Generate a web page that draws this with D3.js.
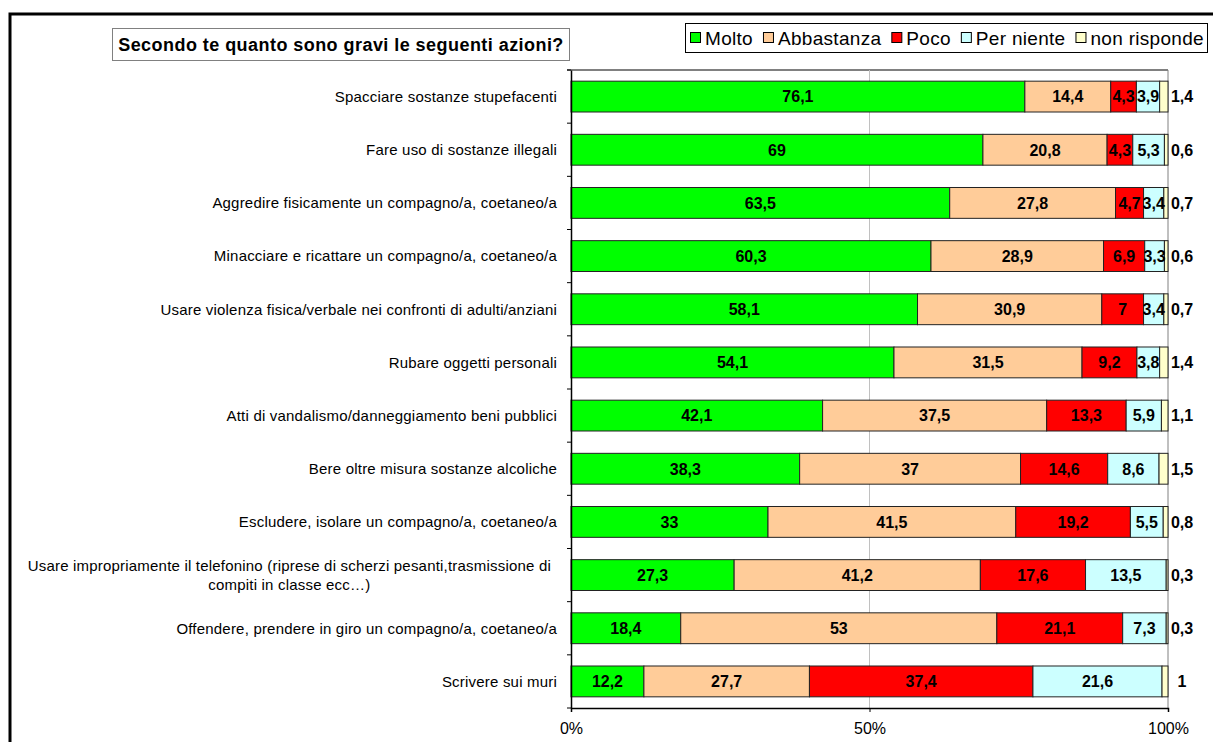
<!DOCTYPE html>
<html>
<head>
<meta charset="utf-8">
<script src="https://cdn.jsdelivr.net/npm/d3@7"></script>
<style>
  body { margin: 0; background: #fff; }
  svg { font-family: "Liberation Sans", Arial, sans-serif; }
</style>
</head>
<body>
<div id="chart"></div>
<script>
const WIDTH = 1213;
const HEIGHT = 742;

const categories = [
  "Spacciare sostanze stupefacenti",
  "Fare uso di sostanze illegali",
  "Aggredire fisicamente un compagno/a, coetaneo/a",
  "Minacciare e ricattare un compagno/a, coetaneo/a",
  "Usare violenza fisica/verbale nei confronti di adulti/anziani ",
  "Rubare oggetti personali",
  "Atti di vandalismo/danneggiamento beni pubblici",
  "Bere oltre misura sostanze alcoliche",
  "Escludere, isolare un compagno/a, coetaneo/a",
  "Usare impropriamente il telefonino (riprese di scherzi pesanti,trasmissione di|compiti in classe ecc…)",
  "Offendere, prendere in giro un compagno/a, coetaneo/a",
  "Scrivere sui muri"
];

const seriesNames = ["Molto", "Abbastanza", "Poco", "Per niente", "non risponde"];
const molto       = [76.1, 69, 63.5, 60.3, 58.1, 54.1, 42.1, 38.3, 33, 27.3, 18.4, 12.2];
const abbastanza  = [14.4, 20.8, 27.8, 28.9, 30.9, 31.5, 37.5, 37, 41.5, 41.2, 53, 27.7];
const poco        = [4.3, 4.3, 4.7, 6.9, 7, 9.2, 13.3, 14.6, 19.2, 17.6, 21.1, 37.4];
const perNiente   = [3.9, 5.3, 3.4, 3.3, 3.4, 3.8, 5.9, 8.6, 5.5, 13.5, 7.3, 21.6];
const nonRisponde = [1.4, 0.6, 0.7, 0.6, 0.7, 1.4, 1.1, 1.5, 0.8, 0.3, 0.3, 1];
const seriesColors = ["#00ff00", "#ffcc99", "#ff0000", "#ccffff", "#ffffcc"];
const xTicks = [0, 0.5, 1];

const title = "Secondo te quanto sono gravi le seguenti azioni?";

const values = [molto, abbastanza, poco, perNiente, nonRisponde];
const rows = categories.map((c, i) => {
  const row = { cat: c };
  seriesNames.forEach((s, k) => row[s] = values[k][i]);
  return row;
});
// 100% stacked: normalise each row by its total
const normRows = rows.map(r => {
  const tot = d3.sum(seriesNames, s => r[s]);
  const o = { cat: r.cat };
  seriesNames.forEach(s => o[s] = r[s] / tot);
  return o;
});
const stacked = d3.stack().keys(seriesNames)(normRows);

const margin = { left: 571, right: 1168, top: 70, bottom: 708 };

const svg = d3.select("#chart").append("svg")
  .attr("width", WIDTH)
  .attr("height", HEIGHT);

// outer frame
svg.append("rect")
  .attr("x", 10).attr("y", 14)
  .attr("width", WIDTH + 20).attr("height", HEIGHT + 20)
  .attr("fill", "none").attr("stroke", "#000").attr("stroke-width", 3);

const x = d3.scaleLinear().domain([0, 1]).range([margin.left, margin.right]);
const y = d3.scaleBand().domain(d3.range(categories.length))
  .range([margin.top, margin.bottom]).paddingInner(0.42).paddingOuter(0.21);

// plot area border (top / right) and gridline
svg.append("line")
  .attr("x1", margin.left - 4).attr("x2", margin.right)
  .attr("y1", margin.top).attr("y2", margin.top)
  .attr("stroke", "#808080").attr("stroke-width", 2);
svg.append("line")
  .attr("x1", margin.right).attr("x2", margin.right)
  .attr("y1", margin.top).attr("y2", margin.bottom)
  .attr("stroke", "#808080").attr("stroke-width", 1);
svg.append("line")
  .attr("x1", x(0.5)).attr("x2", x(0.5))
  .attr("y1", margin.top).attr("y2", margin.bottom)
  .attr("stroke", "#c0c0c0").attr("stroke-width", 1);

// bars
const layer = svg.selectAll(".layer")
  .data(stacked)
  .enter().append("g")
  .attr("class", "layer")
  .attr("fill", (d, k) => seriesColors[k]);

layer.selectAll("rect")
  .data(d => d)
  .enter().append("rect")
  .attr("x", d => x(d[0]))
  .attr("y", (d, i) => y(i))
  .attr("width", d => x(d[1]) - x(d[0]))
  .attr("height", y.bandwidth())
  .attr("stroke", "#222")
  .attr("stroke-width", 1);

const fmt = v => String(v).replace(".", ",");

// value labels
stacked.forEach((s, k) => {
  svg.append("g").selectAll("text")
    .data(s)
    .enter().append("text")
    .attr("x", d => k === 4 ? x(1) + 14 : (x(d[0]) + x(d[1])) / 2)
    .attr("y", (d, i) => y(i) + y.bandwidth() / 2)
    .attr("dy", "0.36em")
    .attr("text-anchor", "middle")
    .style("font-size", "16px")
    .style("font-weight", "bold")
    .attr("fill", "#000")
    .text((d, i) => fmt(values[k][i]));
});

// y axis
const yAxis = d3.axisLeft(y).tickSize(0).tickFormat("");
svg.append("g")
  .attr("transform", `translate(${margin.left},0)`)
  .call(yAxis)
  .call(g => g.select(".domain").attr("stroke", "#000").attr("stroke-width", 1.5));
// category separators as ticks
svg.append("g").selectAll("line")
  .data(d3.range(categories.length + 1))
  .enter().append("line")
  .attr("x1", margin.left - 4).attr("x2", margin.left)
  .attr("y1", i => margin.top + i * y.step() )
  .attr("y2", i => margin.top + i * y.step() )
  .attr("stroke", "#000");

// category labels
const labels = svg.append("g").selectAll("text")
  .data(categories)
  .enter().append("text")
  .style("font-size", "15px")
  .style("letter-spacing", "0.2px")
  .attr("fill", "#000");
labels.each(function(c, i) {
  const t = d3.select(this);
  const lines = c.split("|");
  const cy = y(i) + y.bandwidth() / 2;
  if (lines.length === 1) {
    t.attr("x", 557).attr("y", cy).attr("dy", "0.35em")
      .attr("text-anchor", "end").text(c);
  } else {
    t.attr("text-anchor", "middle");
    const ts = lines.map((l, j) => t.append("tspan").text(l)
      .attr("y", cy + (j - (lines.length - 1) / 2) * 19).attr("dy", "0.35em"));
    const w = d3.max(ts, s => s.node().getComputedTextLength());
    ts.forEach(s => s.attr("x", 551 - w / 2));
  }
});

// x axis
const xAxis = d3.axisBottom(x).tickValues(xTicks).tickSize(4)
  .tickFormat(d => `${Math.round(d * 100)}%`);
svg.append("g")
  .attr("transform", `translate(0,${margin.bottom})`)
  .call(xAxis)
  .call(g => g.select(".domain").attr("stroke", "#000").attr("stroke-width", 1.5))
  .call(g => g.selectAll("text").style("font-size", "16px")
    .style("font-family", "Liberation Sans, Arial, sans-serif").attr("y", 15))
  .call(g => g.selectAll(".tick line").attr("stroke", "#000"));

// title box
svg.append("rect")
  .attr("x", 112.5).attr("y", 28.5).attr("width", 457).attr("height", 32)
  .attr("fill", "#fff").attr("stroke", "#808080");
svg.append("text")
  .attr("x", 341).attr("y", 45).attr("dy", "0.35em")
  .attr("text-anchor", "middle")
  .style("font-size", "18px").style("font-weight", "bold")
  .style("letter-spacing", "0.45px")
  .text(title);

// legend
const legend = svg.append("g");
legend.append("rect")
  .attr("x", 685.5).attr("y", 23.5).attr("width", 522).attr("height", 29)
  .attr("fill", "#fff").attr("stroke", "#000");
let lx = 690;
seriesNames.forEach((s, k) => {
  legend.append("rect")
    .attr("x", lx + 0.5).attr("y", 32.5).attr("width", 10).attr("height", 10)
    .attr("fill", seriesColors[k]).attr("stroke", "#000");
  const t = legend.append("text")
    .attr("x", lx + 15).attr("y", 38).attr("dy", "0.35em")
    .style("font-size", "19px").style("letter-spacing", "0.3px").text(s);
  lx += 15 + t.node().getComputedTextLength() + 10;
});
</script>
</body>
</html>
